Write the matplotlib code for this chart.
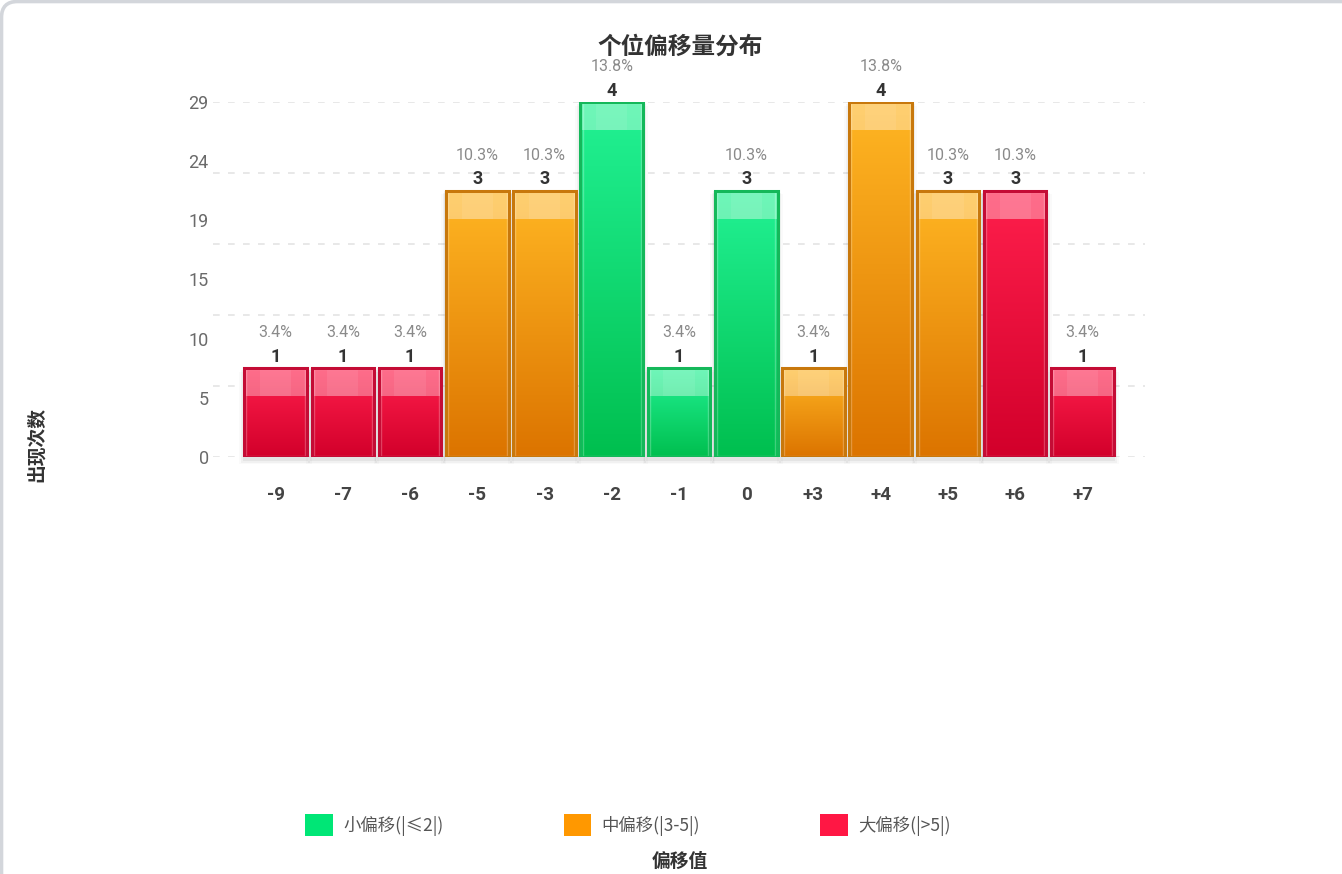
import numpy as np
import matplotlib.pyplot as plt
from matplotlib.patches import Rectangle, Patch, PathPatch
from matplotlib.path import Path
from matplotlib.colors import to_rgb

plt.rcParams['font.family'] = ['Noto Sans CJK SC', 'DejaVu Sans']

# data
offsets = ['-9', '-7', '-6', '-5', '-3', '-2', '-1', '0', '+3', '+4', '+5', '+6', '+7']
counts = [1, 1, 1, 3, 3, 4, 1, 3, 1, 4, 3, 3, 1]
groups = ['big', 'big', 'big', 'mid', 'mid', 'small', 'small', 'small',
          'mid', 'mid', 'mid', 'big', 'big']
y_max = 29
y_ticks = [0, 5, 10, 15, 19, 24, 29]
legend_labels = ['小偏移(|≤2|)', '中偏移(|3-5|)', '大偏移(|>5|)']

# colours per group: (top, bottom, edge, legend)
colors = {
    'small': ('#22f294', '#00bf4f', '#14b85a', '#00e676'),
    'mid':   ('#ffb623', '#dc7400', '#c8780c', '#ff9800'),
    'big':   ('#ff1f4c', '#d2002b', '#c40c35', '#ff1744'),
}

total = sum(counts)
scale = y_max / max(counts)
heights = [c * scale for c in counts]

W, H = 1342, 874
fig = plt.figure(figsize=(W / 100, H / 100), dpi=100)

# card border (top and left edge, rounded corner), in pixel coords
r = 16
verts = [(1.5, -20), (1.5, H - 1.5 - r), (1.5, H - 1.5), (1.5 + r, H - 1.5), (W + 20, H - 1.5)]
codes = [Path.MOVETO, Path.LINETO, Path.CURVE3, Path.CURVE3, Path.LINETO]
border = PathPatch(Path([(x / 100, y / 100) for x, y in verts], codes),
                   transform=fig.dpi_scale_trans, facecolor='none',
                   edgecolor='#d3d6db', linewidth=2.6, zorder=10)
fig.add_artist(border)

ax = fig.add_axes([213 / W, 417 / H, 932 / W, 355 / H])
ax.set_facecolor('none')
ax.set_xlim(-0.93, len(offsets) - 1 + 0.93)
ax.set_ylim(0, y_max)

# dashed grid (5 intervals, independent from labels)
for g in np.linspace(0, y_max, 6):
    ax.axhline(g, color='#e4e4e4', linestyle=(0, (4, 5)), linewidth=1.2, zorder=0)

px_per_unit = 355 / y_max
band = 28 / px_per_unit
bw = 0.93

for i, (h, grp, c) in enumerate(zip(heights, groups, counts)):
    top, bot, edge, _ = colors[grp]
    x0 = i - bw / 2
    # soft shadow
    for k, a in enumerate([0.05, 0.035, 0.02]):
        d = (k + 1) * 0.025
        ax.add_patch(Rectangle((x0 - d, -0.3 - k * 0.15), bw + 2 * d, h + 0.3,
                               facecolor='black', alpha=a, linewidth=0, zorder=1,
                               clip_on=False))
    # vertical gradient
    t = np.linspace(0, 1, 64)[:, None]
    rgb_top = np.array(to_rgb(top))
    rgb_bot = np.array(to_rgb(bot))
    img = (1 - t)[:, :, None] * rgb_top + t[:, :, None] * rgb_bot
    img = np.repeat(img, 2, axis=1)
    im = ax.imshow(img, extent=(x0, x0 + bw, 0, h), aspect='auto',
                   origin='upper', zorder=2, interpolation='bilinear')
    rect = Rectangle((x0, 0), bw, h, facecolor='none', edgecolor=edge,
                     linewidth=2.2, zorder=4)
    ax.add_patch(rect)
    im.set_clip_path(rect)
    # glossy highlight band at top
    ax.add_patch(Rectangle((x0, h - band), bw, band, facecolor='white',
                           alpha=0.35, linewidth=0, zorder=3))
    ax.add_patch(Rectangle((x0 + bw * 0.25, h - band), bw * 0.5, band,
                           facecolor='white', alpha=0.08, linewidth=0, zorder=3))
    # inner light line
    ax.add_patch(Rectangle((x0 + 0.03, 0.1), bw - 0.06, h - 0.2, facecolor='none',
                           edgecolor='white', alpha=0.25, linewidth=1, zorder=3))
    # labels
    ax.annotate(str(c), (i, h), xytext=(0, 4.5), textcoords='offset points',
                ha='center', va='baseline', fontsize=13, fontweight='bold',
                color='#333333', family=['Roboto', 'DejaVu Sans'], zorder=5,
                annotation_clip=False)
    ax.annotate(f'{c / total * 100:.1f}%', (i, h), xytext=(0, 22.5),
                textcoords='offset points', ha='center', va='baseline',
                fontsize=11.5, color='#8a8a8a', family=['Roboto', 'DejaVu Sans'],
                zorder=5, annotation_clip=False)

ax.set_xticks(range(len(offsets)))
ax.set_xticklabels(offsets, fontsize=13.5, fontweight='bold', color='#444444',
                   family=['Roboto', 'DejaVu Sans'])
ax.set_yticks(np.linspace(0, y_max, len(y_ticks)))
ax.set_yticklabels([str(v) for v in y_ticks], fontsize=13, color='#6a6a6a',
                   family=['Roboto', 'DejaVu Sans'])
ax.tick_params(axis='both', length=0)
ax.tick_params(axis='x', pad=21)
ax.tick_params(axis='y', pad=3)
for s in ax.spines.values():
    s.set_visible(False)

fig.text(680 / W, 1 - 47 / H, '个位偏移量分布', ha='center', va='center',
         fontsize=17, fontweight='bold', color='#333333')
fig.text(37 / W, 1 - 445 / H, '出现次数', ha='center', va='center',
         rotation=90, fontsize=13.5, fontweight='bold', color='#333333')
fig.text(680 / W, 1 - 861 / H, '偏移值', ha='center', va='center',
         fontsize=13.5, fontweight='bold', color='#333333')

handles = [Patch(facecolor=colors[g][3], edgecolor='none') for g in ['small', 'mid', 'big']]
fig.legend(handles, legend_labels, loc='center', bbox_to_anchor=(628 / W, 1 - 825 / H),
           ncol=3, frameon=False, fontsize=12.5, handlelength=1.6, handleheight=1.6,
           handletextpad=0.6, columnspacing=6.9, labelcolor='#555555')

fig.savefig('out.png', dpi=100, facecolor='white')
